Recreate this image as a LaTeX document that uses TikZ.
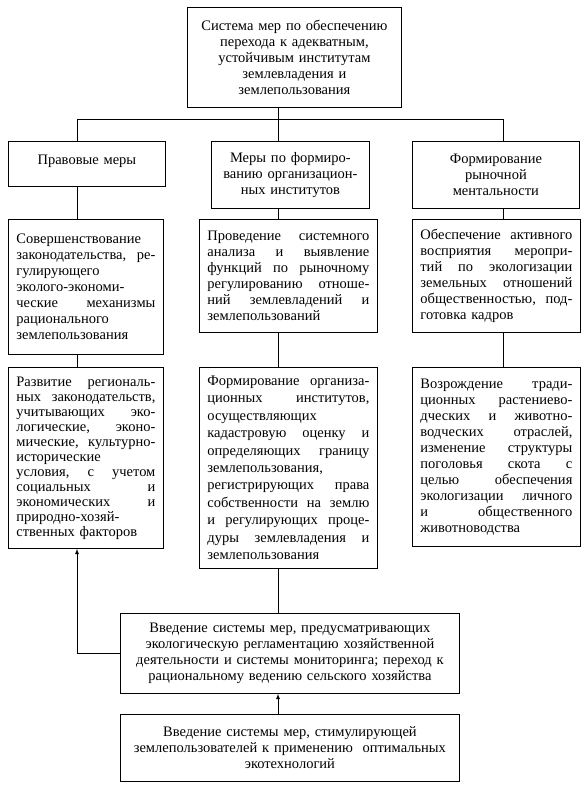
\documentclass[tikz,border=0pt]{standalone}
\usepackage{fontspec}
\setmainfont{Liberation Serif}
\usepackage{tikz}

\begin{document}
\begin{tikzpicture}[x=1pt, y=-1pt, >=latex, line width=0.8pt,
    box/.style={rectangle, draw, anchor=north west, inner xsep=8pt, inner ysep=4pt, font=\fontsize{14.5}{16}\selectfont},
    cbox/.style={box, align=center},
    jbox/.style={box, align=left}]
    \useasboundingbox (0,0) rectangle (585,786);

    \node (top) [cbox, text width=198pt, minimum height=100pt] at (187,7) {Система мер по обеспечению\\перехода к адекватным,\\устойчивым институтам\\землевладения и\\землепользования};

    \node (l2) [cbox, text width=141pt, minimum height=45pt, text depth=8pt] at (8,141) {Правовые меры};
    \node (m2) [cbox, text width=142pt, minimum height=67pt] at (211,141) {Меры по формиро-\\ванию организацион-\\ных институтов};
    \node (r2) [cbox, text width=151pt, minimum height=67pt] at (412,141) {Формирование\\рыночной\\ментальности};

    \node (l3) [jbox, text width=139pt, minimum height=135pt] at (8,219) {Совершенствование\\законодательства, \hfill ре-\\гулирующего\\эколого-экономи-\\ческие \hfill механизмы\\рационального\\землепользования};
    \node (m3) [jbox, text width=162pt, minimum height=113pt] at (199,219) {Проведение \hfill системного\\анализа \hfill и \hfill выявление\\функций \hfill по \hfill рыночному\\регулированию \hfill отноше-\\ний \hfill землевладений \hfill и\\землепользований};
    \node (r3) [jbox, text width=152pt, minimum height=113pt] at (412,219) {Обеспечение \hfill активного\\восприятия \hfill меропри-\\тий \hfill по \hfill экологизации\\земельных \hfill отношений\\общественностью, \hfill под-\\готовка кадров};

    \node (l4) [jbox, text width=139pt, minimum height=181pt, font=\fontsize{14.5}{15}\selectfont] at (8,367) {Развитие \hfill региональ-\\ных \hfill законодательств,\\учитывающих \hfill эко-\\логические, \hfill эконо-\\мические, \hfill культурно-\\исторические\\условия, \hfill с \hfill учетом\\социальных \hfill и\\экономических \hfill и\\природно-хозяй-\\ственных факторов};
    \node (m4) [jbox, text width=162pt, minimum height=201pt, font=\fontsize{14.5}{17.4}\selectfont] at (199,367) {Формирование \hfill организа-\\ционных \hfill институтов,\\осуществляющих\\кадастровую \hfill оценку \hfill и\\определяющих \hfill границу\\землепользования,\\регистрирующих \hfill права\\собственности \hfill на \hfill землю\\и \hfill регулирующих \hfill проце-\\дуры \hfill землевладения \hfill и\\землепользования};
    \node (r4) [jbox, text width=152pt, minimum height=179pt] at (412,367) {Возрождение \hfill тради-\\ционных \hfill растениево-\\дческих \hfill и \hfill животно-\\водческих \hfill отраслей,\\изменение \hfill структуры\\поголовья \hfill скота \hfill с\\целью \hfill обеспечения\\экологизации \hfill личного\\и \hfill общественного\\животноводства};

    \node (b5) [cbox, text width=323pt, minimum height=80pt] at (120,613) {Введение системы мер, предусматривающих\\экологическую регламентацию хозяйственной\\деятельности и системы мониторинга; переход к\\рациональному ведению сельского хозяйства};
    \node (b6) [cbox, text width=323pt, minimum height=67pt] at (120,714) {Введение системы мер, стимулирующей\\землепользователей к применению \ оптимальных\\экотехнологий};

    % bus under the top box
    \coordinate (busl) at (77,119);
    \coordinate (busm) at (278,119);
    \coordinate (busr) at (503,119);
    \draw (busl) -- (busr);
    \draw (top.south -| busm) -- (m2.north -| busm);
    \draw (busl) -- (l2.north -| busl);
    \draw (busr) -- (r2.north -| busr);

    \draw (l2.south -| busl) -- (l3.north -| busl);
    \draw (l3.south -| busl) -- (l4.north -| busl);
    \draw (m2.south -| busm) -- (m3.north -| busm);
    \draw (m3.south -| busm) -- (m4.north -| busm);
    \draw (r2.south -| busr) -- (r3.north -| busr);
    \draw (r3.south -| busr) -- (r4.north -| busr);
    \draw (m4.south -| busm) -- (b5.north -| busm);

    \draw[->] (b6.north -| busm) -- (b5.south -| busm);
    \draw[->] (b5.west) -| (l4.south -| busl);
\end{tikzpicture}
\end{document}
